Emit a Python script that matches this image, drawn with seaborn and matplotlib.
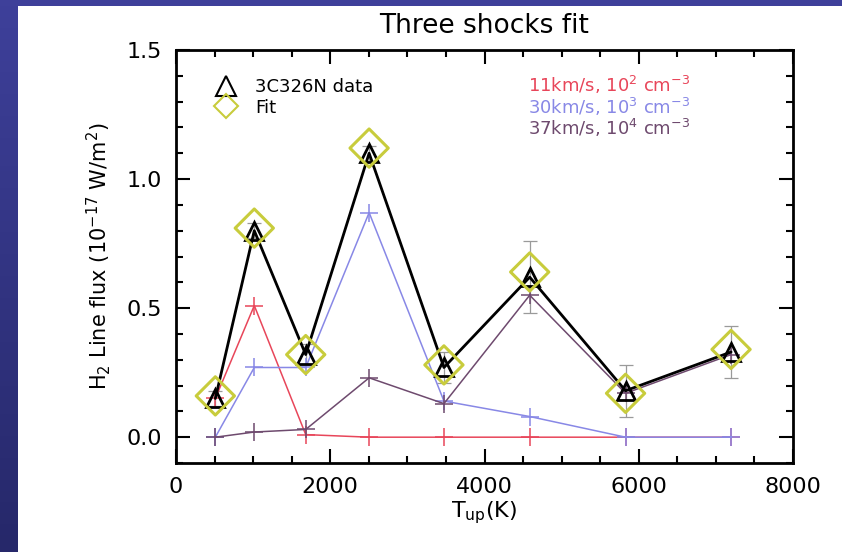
import numpy as np
import seaborn as sns
import matplotlib.pyplot as plt
from matplotlib.lines import Line2D
from matplotlib.ticker import MultipleLocator

# H2 rotational lines, upper level energies (K)
t_up = [510, 1015, 1682, 2504, 3474, 4586, 5829, 7197]

# observed fluxes and errors (1e-17 W/m2)
obs_flux = [0.15, 0.80, 0.32, 1.10, 0.27, 0.62, 0.18, 0.33]
obs_err = [0.03, 0.03, 0.04, 0.03, 0.06, 0.14, 0.10, 0.10]

# total fit
fit_flux = [0.16, 0.81, 0.32, 1.12, 0.28, 0.64, 0.17, 0.34]

# individual shock models
shock_11 = [0.15, 0.51, 0.01, 0.0, 0.0, 0.0, 0.0, 0.0]
shock_30 = [0.0, 0.27, 0.27, 0.87, 0.14, 0.08, 0.0, 0.0]
shock_37 = [0.0, 0.02, 0.03, 0.23, 0.13, 0.55, 0.17, 0.32]

shock_labels = [r"11km/s, 10$^2$ cm$^{-3}$",
                r"30km/s, 10$^3$ cm$^{-3}$",
                r"37km/s, 10$^4$ cm$^{-3}$"]
shock_colors = ["#e8465a", "#8888e6", "#6e4a6e"]

sns.set_style("ticks")
plt.rcParams["font.family"] = ["DejaVu Sans"]
plt.rcParams["text.color"] = "black"
plt.rcParams["axes.labelcolor"] = "black"

fig = plt.figure(figsize=(8.42, 5.52), dpi=100)
fig.patch.set_facecolor("#35378a")

# slide background gradient + white area
bg = fig.add_axes([0, 0, 1, 1], zorder=-10)
grad = np.linspace(0, 1, 100).reshape(-1, 1)
bg.imshow(grad, aspect="auto", extent=[0, 1, 0, 1],
          cmap=plt.matplotlib.colors.LinearSegmentedColormap.from_list(
              "slide", ["#3e409a", "#26286a"]))
bg.add_patch(plt.Rectangle((18 / 842, 0), 1, 1 - 6 / 552,
                           facecolor="white", edgecolor="none"))
bg.set_xlim(0, 1)
bg.set_ylim(0, 1)
bg.axis("off")

ax = fig.add_axes([176 / 842, 89 / 552, 617 / 842, 413 / 552])
ax.set_facecolor("white")

for lab, col, vals in zip(shock_labels, shock_colors, [shock_11, shock_30, shock_37]):
    sns.lineplot(x=t_up, y=vals, ax=ax, color=col, lw=1.1, marker="+",
                 markersize=13, markeredgewidth=1.1, markeredgecolor=col,
                 zorder=3)

ax.errorbar(t_up, obs_flux, yerr=obs_err, fmt="none", ecolor="#9a9a9a",
            elinewidth=0.9, capsize=5, capthick=0.9, zorder=2)

sns.lineplot(x=t_up, y=obs_flux, ax=ax, color="black", lw=2.0, marker="^",
             markersize=13, markerfacecolor="none", markeredgecolor="black",
             markeredgewidth=2.0, zorder=4)

sns.scatterplot(x=t_up, y=fit_flux, ax=ax, marker="D", s=380,
                facecolor="none", edgecolor="#c8cc3c", linewidth=2.2, zorder=5)

ax.set_xlim(0, 8000)
ax.set_ylim(-0.1, 1.5)
ax.xaxis.set_major_locator(MultipleLocator(2000))
ax.xaxis.set_minor_locator(MultipleLocator(500))
ax.yaxis.set_major_locator(MultipleLocator(0.5))
ax.yaxis.set_minor_locator(MultipleLocator(0.1))
ax.yaxis.set_major_formatter(plt.FormatStrFormatter("%.1f"))
ax.tick_params(which="both", direction="in", top=True, right=True,
               width=1.5, labelsize=16, pad=10, colors="black")
ax.tick_params(which="major", length=10)
ax.tick_params(which="minor", length=5)
for sp in ax.spines.values():
    sp.set_linewidth(2)
    sp.set_color("black")

ax.set_xlabel(r"T$_{\rm up}$(K)", fontsize=16, labelpad=2)
ax.set_ylabel(r"H$_2$ Line flux (10$^{-17}$ W/m$^2$)", fontsize=15, labelpad=10)
ax.set_title("Three shocks fit", fontsize=19, pad=12, color="black")

handles = [
    Line2D([], [], ls="none", marker="^", markersize=15, markerfacecolor="none",
           markeredgecolor="black", markeredgewidth=1.5, label="3C326N data"),
    Line2D([], [], ls="none", marker="D", markersize=12, markerfacecolor="none",
           markeredgecolor="#c8cc3c", markeredgewidth=1.5, label="Fit"),
]
ax.legend(handles=handles, loc="upper left", bbox_to_anchor=(0.04, 0.95),
          frameon=False, fontsize=13, handletextpad=0.6, labelspacing=0.15,
          borderaxespad=0)

for i, (lab, col) in enumerate(zip(shock_labels, shock_colors)):
    ax.text(0.571, 0.915 - i * 0.052, lab, color=col, fontsize=13,
            transform=ax.transAxes, va="center", ha="left")

fig.savefig("out.png", dpi=100)
